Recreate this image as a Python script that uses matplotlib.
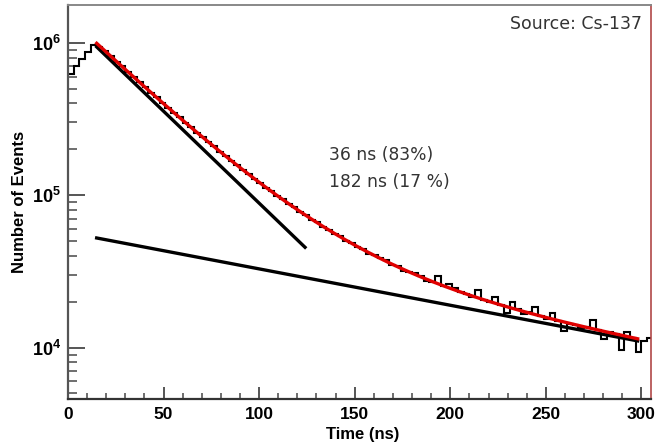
import numpy as np
import matplotlib
matplotlib.use('Agg')
import matplotlib.pyplot as plt
from matplotlib.ticker import FixedLocator, FixedFormatter, NullFormatter

plt.rcParams['mathtext.fontset'] = 'custom'
plt.rcParams['mathtext.bf'] = 'Liberation Sans:bold'
plt.rcParams['mathtext.rm'] = 'Liberation Sans:bold'

# ---- data ----
bin_width = 3.0  # ns
counts = [
    6.2e5, 7.0e5, 7.8e5, 8.7e5, 9.65e5, 9.45e5, 8.85e5, 8.2e5, 7.5e5, 7.0e5,
    6.4e5, 5.95e5, 5.5e5, 5.12e5, 4.7e5, 4.38e5, 4.03e5, 3.76e5, 3.46e5, 3.24e5,
    2.98e5, 2.80e5, 2.57e5, 2.42e5, 2.22e5, 2.09e5, 1.92e5, 1.81e5, 1.67e5, 1.58e5,
    1.46e5, 1.38e5, 1.28e5, 1.21e5, 1.12e5, 1.07e5, 9.9e4, 9.4e4, 8.7e4, 8.35e4,
    7.75e4, 7.45e4, 6.9e4, 6.65e4, 6.2e4, 5.95e4, 5.55e4, 5.4e4, 5.0e4, 4.85e4,
    4.55e4, 4.45e4, 4.1e4, 4.05e4, 3.85e4, 3.75e4, 3.5e4, 3.45e4, 3.2e4, 3.15e4,
    3.1e4, 2.95e4, 2.75e4, 2.7e4, 2.95e4, 2.55e4, 2.6e4, 2.45e4, 2.3e4, 2.25e4,
    2.15e4, 2.4e4, 2.05e4, 2.0e4, 2.15e4, 1.9e4, 1.68e4, 1.98e4, 1.78e4, 1.65e4,
    1.7e4, 1.85e4, 1.6e4, 1.55e4, 1.68e4, 1.5e4, 1.28e4, 1.42e4, 1.4e4, 1.35e4,
    1.36e4, 1.52e4, 1.3e4, 1.14e4, 1.27e4, 1.22e4, 9.6e3, 1.26e4, 1.15e4, 9.4e3,
    1.1e4, 1.16e4,
]

# two-exponential fit parameters
fast_amp, fast_tau = 1.426e6, 36.0
slow_amp, slow_tau = 5.69e4, 182.0
fit_start, fit_end = 15.0, 298.0
fast_line_end = 124.0

x_ticks = [0, 50, 100, 150, 200, 250, 300]
x_tick_labels = ['0', '50', '100', '150', '200', '250', '300']
y_ticks = [1e4, 1e5, 1e6]
y_tick_labels = [r'$\mathbf{10^{4}}$', r'$\mathbf{10^{5}}$', r'$\mathbf{10^{6}}$']

text_lines = ['36 ns (83%)', '182 ns (17 %)']
source_text = 'Source: Cs-137'

# ---- figure ----
fig = plt.figure(figsize=(6.6, 4.42), dpi=100)
ax = fig.add_axes([68/660, 1-399/442, (651-68)/660, (399-5)/442])
ax.set_yscale('log')

edges = np.arange(len(counts) + 1) * bin_width
ax.stairs(counts, edges, baseline=None, color='black', lw=1.5, zorder=2)

t_fit = np.linspace(fit_start, fit_end, 400)
t_fast = np.linspace(fit_start, fast_line_end, 200)
fast = lambda t: fast_amp * np.exp(-t / fast_tau)
slow = lambda t: slow_amp * np.exp(-t / slow_tau)
ax.plot(t_fast, fast(t_fast), color='black', lw=2.4, zorder=3)
ax.plot(t_fit, slow(t_fit), color='black', lw=2.4, zorder=3)
ax.plot(t_fit, fast(t_fit) + slow(t_fit), color='#e00000', lw=2.4, zorder=4)

ax.set_xlim(0, 305)
ax.set_ylim(4.6e3, 1.77e6)

ax.xaxis.set_major_locator(FixedLocator(x_ticks))
ax.xaxis.set_major_formatter(FixedFormatter(x_tick_labels))
ax.xaxis.set_minor_locator(FixedLocator(np.arange(0, 305, 10)))
ax.yaxis.set_major_locator(FixedLocator(y_ticks))
ax.yaxis.set_major_formatter(FixedFormatter(y_tick_labels))
minor_y = [m * 10**e for e in (3, 4, 5, 6) for m in range(2, 10)]
ax.yaxis.set_minor_locator(FixedLocator(minor_y))
ax.yaxis.set_minor_formatter(NullFormatter())

tick_col = '#555555'
ax.tick_params(axis='x', which='major', direction='in', length=9, width=1.4,
               color=tick_col, pad=6, labelsize=12.5)
ax.tick_params(axis='x', which='minor', direction='in', length=4.5, width=1.2,
               color=tick_col)
ax.tick_params(axis='y', which='major', direction='in', length=12.5, width=1.4,
               color=tick_col, pad=5, labelsize=13)
ax.tick_params(axis='y', which='minor', direction='in', length=6.5, width=1.2,
               color=tick_col)
for lab in ax.get_xticklabels():
    lab.set_fontfamily('Liberation Sans')
    lab.set_fontweight('bold')

ax.spines['left'].set_color('#555555')
ax.spines['left'].set_linewidth(1.6)
ax.spines['bottom'].set_color('#333333')
ax.spines['bottom'].set_linewidth(1.6)
ax.spines['top'].set_color('#888888')
ax.spines['top'].set_linewidth(1.4)
ax.spines['right'].set_color('#b04848')
ax.spines['right'].set_linewidth(1.2)

ax.set_xlabel('Time (ns)', fontfamily='Liberation Sans', fontweight='bold',
              fontsize=12)
ax.xaxis.set_label_coords(0.505, -0.07)
ax.set_ylabel('Number of Events', fontfamily='Liberation Sans',
              fontweight='bold', fontsize=12)
ax.yaxis.set_label_coords(-0.07, 0.5)

ax.text(0.985, 0.975, source_text, transform=ax.transAxes, ha='right', va='top',
        fontsize=12.5, color='#333333', fontfamily='DejaVu Sans')
ax.text(0.448, 0.584, text_lines[0] + '\n' + text_lines[1],
        transform=ax.transAxes, ha='left', va='center', fontsize=12.3,
        color='#333333', fontfamily='DejaVu Sans', linespacing=1.65)

fig.savefig('out.png', dpi=100)
